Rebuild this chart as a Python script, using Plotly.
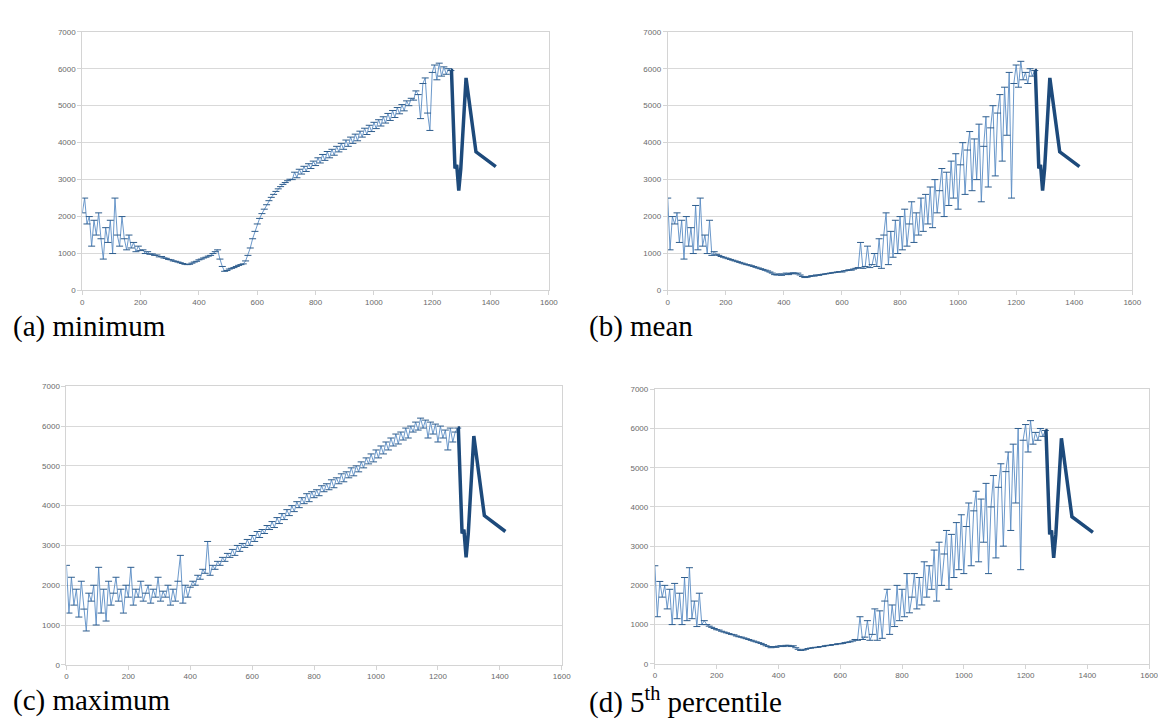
import plotly.graph_objects as go

# x positions of the noisy part (shared by all four panels)
x_main = list(range(0, 1265, 8))

minimum_vals = [
    2100, 2500, 1800, 2000, 1200, 1900, 1500, 2100, 1400, 850,
    1700, 1300, 1900, 1000, 2500, 1500, 1200, 2000, 1400, 1100,
    1500, 1150, 1300, 1050, 1200, 1080, 1100, 1000, 1050, 980,
    990, 950, 960, 910, 920, 880, 870, 840, 830, 800,
    790, 770, 750, 730, 710, 700, 710, 740, 770, 790,
    830, 850, 880, 900, 930, 950, 1000, 1050, 1100, 850,
    650, 520, 540, 580, 600, 620, 650, 680, 700, 720,
    800, 950, 1150, 1400, 1600, 1800, 1950, 2080, 2200, 2320,
    2430, 2520, 2600, 2680, 2750, 2810, 2870, 2920, 2970, 3010,
    3000, 3200, 3050, 3280, 3150, 3360, 3220, 3430, 3300, 3500,
    3380, 3590, 3450, 3680, 3520, 3760, 3590, 3820, 3660, 3900,
    3750, 3980, 3820, 4070, 3900, 4150, 3980, 4230, 4050, 4310,
    4150, 4390, 4220, 4470, 4300, 4550, 4380, 4620, 4450, 4700,
    4530, 4790, 4600, 4870, 4680, 4950, 4780, 5030, 4860, 5130,
    5000, 5200, 5150, 5400, 5300, 4650, 5600, 5750, 4800, 4330,
    5900, 6100, 5700, 6150, 5800, 6050, 5850, 6000, 5950,
]

mean_vals = [
    2500, 1100, 2000, 1800, 2100, 1300, 1900, 850, 2000, 1200,
    1700, 1000, 2300, 1100, 2500, 1200, 1500, 1000, 1900, 950,
    1050, 980, 950, 920, 900, 880, 860, 840, 820, 800,
    780, 760, 740, 720, 700, 690, 670, 650, 630, 610,
    590, 570, 550, 530, 500, 470, 430, 420, 450, 410,
    440, 470, 430, 460, 480, 450, 470, 420, 380, 350,
    360, 380, 400, 390, 420, 410, 430, 440, 450, 460,
    470, 480, 490, 500, 510, 500, 530, 540, 560, 550,
    580, 600, 620, 1300, 600, 650, 1200, 620, 700, 1000,
    650, 1400, 600, 1500, 2100, 700, 1600, 900, 1900, 1000,
    2000, 1100, 2200, 1200, 1800, 2400, 1300, 2100, 1500, 2500,
    1600, 2600, 1800, 2800, 1700, 3000, 2100, 2700, 3300, 2000,
    3200, 2300, 3500, 2500, 3700, 2200, 3400, 4000, 2600, 3800,
    4300, 2700, 4100, 3000, 4500, 2400, 3900, 4700, 2800, 4400,
    5000, 3100, 4800, 5300, 3500, 5500, 4200, 5900, 2500, 5600,
    6100, 5500, 6200, 5700, 5900, 5600, 6000, 5800, 5950,
]

maximum_vals = [
    2500, 1300, 2200, 1500, 1900, 1200, 2100, 1400, 850, 1800,
    1600, 2000, 1000, 2450, 1300, 1900, 1100, 2100, 1500, 1800,
    2200, 1600, 1900, 1300, 2000, 1700, 2450, 1500, 1900, 1700,
    2100, 1600, 1800, 2000, 1550, 1900, 1700, 2200, 1600, 1850,
    1700, 2000, 1500, 1900, 1600, 2100, 2750, 1550, 2000, 1700,
    1950, 2100, 2000, 2250, 2150, 2400, 2300, 3100, 2250, 2500,
    2400, 2600, 2500, 2700, 2600, 2800, 2700, 2900, 2750, 3000,
    2850, 3050, 2950, 3150, 3000, 3250, 3100, 3350, 3200, 3400,
    3300, 3500, 3400, 3600, 3450, 3700, 3550, 3800, 3650, 3900,
    3750, 4000, 3850, 4100, 3950, 4200, 4050, 4300, 4100, 4350,
    4200, 4400, 4250, 4500, 4350, 4550, 4400, 4650, 4450, 4700,
    4550, 4800, 4600, 4850, 4700, 4950, 4750, 5000, 4850, 5100,
    4950, 5200, 5050, 5300, 5100, 5400, 5200, 5500, 5300, 5600,
    5400, 5700, 5500, 5800, 5550, 5850, 5650, 5950, 5700, 6000,
    5850, 6100, 5900, 6200, 5950, 6150, 5700, 6100, 5800, 6050,
    5600, 6000, 5700, 5900, 5400, 5950, 5600, 5850, 5950,
]

pct5_vals = [
    2500, 1200, 2100, 1700, 2000, 1400, 1900, 1000, 2050, 1150,
    1800, 1000, 2200, 1100, 2450, 1150, 1600, 950, 1800, 1000,
    1100, 1000, 960, 930, 900, 870, 860, 830, 810, 790,
    770, 750, 740, 710, 690, 680, 660, 640, 620, 600,
    580, 560, 540, 520, 490, 460, 440, 410, 440, 420,
    450, 460, 440, 470, 470, 440, 460, 410, 370, 340,
    350, 370, 390, 400, 410, 420, 420, 440, 440, 460,
    470, 470, 490, 490, 510, 510, 520, 540, 550, 560,
    580, 620, 600, 1200, 620, 680, 1100, 600, 750, 1400,
    600, 1350, 650, 1600, 1900, 750, 1500, 950, 2000, 1100,
    1900, 1200, 2300, 1300, 1700, 2300, 1400, 2200, 1500, 2600,
    1700, 2500, 1900, 2900, 1600, 3100, 2000, 2800, 3400, 1900,
    3300, 2200, 3600, 2400, 3800, 2300, 3500, 4100, 2500, 3900,
    4400, 2600, 4200, 3100, 4600, 2300, 4000, 4800, 2700, 4500,
    5100, 3000, 4900, 5400, 3400, 5600, 4100, 6000, 2400, 5700,
    6100, 5400, 6200, 5600, 5900, 5700, 6000, 5800, 5950,
]

# the common tail after x ~ 1265 (drawn as a heavy line)
x_tail = [1266, 1278, 1284, 1291, 1298, 1316, 1350, 1418]
y_tail = [5950, 3300, 3400, 2700, 3300, 5750, 3750, 3350]

x_ticks = [0, 200, 400, 600, 800, 1000, 1200, 1400, 1600]
y_ticks = [0, 1000, 2000, 3000, 4000, 5000, 6000, 7000]

captions = ["(a) minimum", "(b) mean", "(c) maximum", "(d) 5<sup>th</sup> percentile"]
series = [minimum_vals, mean_vals, maximum_vals, pct5_vals]

W, H = 1166, 725
# plot areas in pixels: (left, right, top, bottom)
boxes = [(73, 544, 20, 282), (664, 1133, 20, 282), (57, 557, 379, 661), (651, 1150, 382, 660)]
cap_pos = [(1, 318), (582, 318), (1, 697), (582, 697)]

fig = go.Figure()
for i, vals in enumerate(series):
    xa = "x" if i == 0 else f"x{i+1}"
    ya = "y" if i == 0 else f"y{i+1}"
    fig.add_trace(go.Scatter(
        x=x_main, y=vals, xaxis=xa, yaxis=ya, mode="lines+markers",
        line=dict(color="#5a8cc4", width=0.9),
        marker=dict(symbol="line-ew", size=5, color="#2f5d8c",
                    line=dict(width=1, color="#2f5d8c")),
        showlegend=False, hoverinfo="skip"))
    fig.add_trace(go.Scatter(
        x=[x_main[-1]] + x_tail, y=[vals[-1]] + y_tail, xaxis=xa, yaxis=ya,
        mode="lines", line=dict(color="#1d4a7b", width=3.5),
        showlegend=False, hoverinfo="skip"))

layout = dict(width=W, height=H, margin=dict(l=0, r=0, t=0, b=0),
              paper_bgcolor="white", plot_bgcolor="white",
              font=dict(family="Liberation Sans, Arial, sans-serif", size=8, color="#666666"))
for i, (l, r, t, b) in enumerate(boxes):
    k = "" if i == 0 else str(i + 1)
    layout[f"xaxis{k}"] = dict(
        domain=[l / W, r / W], anchor=f"y{k}", range=[0, 1600],
        tickvals=x_ticks, ticktext=[str(v) for v in x_ticks],
        showgrid=False, zeroline=False, showline=True, mirror=True,
        linecolor="#d4d4d4", linewidth=1, ticks="outside", ticklen=4,
        tickcolor="#d4d4d4", tickfont=dict(size=8, color="#6a6a6a"))
    layout[f"yaxis{k}"] = dict(
        domain=[1 - b / H, 1 - t / H], anchor=f"x{k}", range=[0, 7000],
        tickvals=y_ticks, ticktext=[str(v) for v in y_ticks],
        showgrid=True, gridcolor="#d9d9d9", gridwidth=1, zeroline=False,
        showline=True, mirror=True, linecolor="#d4d4d4", linewidth=1,
        ticks="outside", ticklen=4, tickcolor="#d4d4d4",
        tickfont=dict(size=8, color="#6a6a6a"))
fig.update_layout(**layout)

for (cx, cy), txt in zip(cap_pos, captions):
    fig.add_annotation(x=cx / W, y=1 - cy / H, xref="paper", yref="paper",
                       xanchor="left", yanchor="middle", showarrow=False,
                       text=txt, font=dict(family="Liberation Serif, Times New Roman, serif",
                                           size=29, color="#000000"))

fig.write_html("out.html")
